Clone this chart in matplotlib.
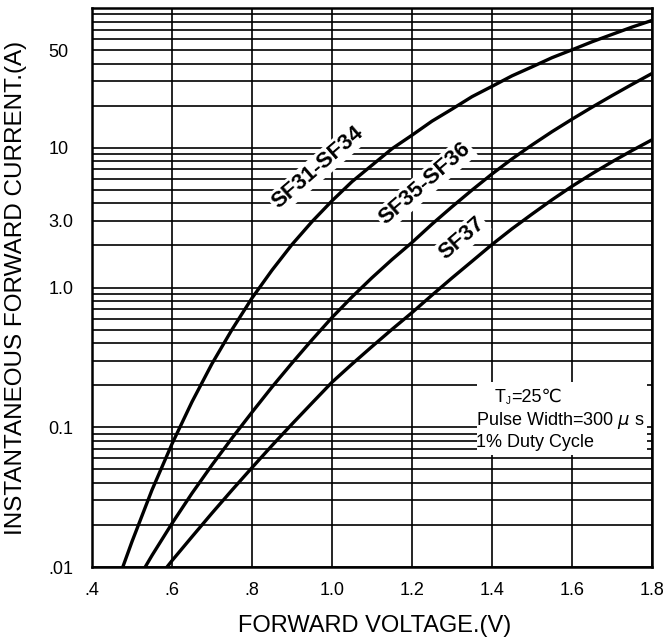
import numpy as np
import matplotlib.pyplot as plt
from matplotlib.patches import Rectangle

# forward voltage (V) / instantaneous forward current (A)
v_sf31 = [0.477, 0.50, 0.55, 0.60, 0.65, 0.70, 0.75, 0.80, 0.85, 0.90, 0.95, 1.00, 1.05, 1.10,
          1.15, 1.20, 1.25, 1.30, 1.35, 1.40, 1.45, 1.50, 1.55, 1.60, 1.65, 1.70, 1.75, 1.80]
i_sf31 = [0.01, 0.0152, 0.0356, 0.076, 0.152, 0.285, 0.50, 0.84, 1.33, 2.03, 2.96, 4.17, 5.72, 7.5,
          9.84, 12.3, 15.5, 18.9, 23.2, 27.5, 32.7, 37.9, 44.1, 50.2, 57.3, 64.7, 73, 81.5]

v_sf35 = [0.533, 0.55, 0.60, 0.65, 0.70, 0.75, 0.80, 0.85, 0.90, 0.95, 1.00, 1.05, 1.10, 1.15,
          1.20, 1.25, 1.30, 1.35, 1.40, 1.45, 1.50, 1.55, 1.60, 1.65, 1.70, 1.75, 1.80]
i_sf35 = [0.01, 0.0121, 0.0205, 0.0337, 0.0537, 0.0836, 0.128, 0.194, 0.288, 0.422, 0.61, 0.856,
          1.175, 1.585, 2.10, 2.84, 3.78, 4.98, 6.49, 8.32, 10.47, 13.03, 16.0, 19.5, 23.6, 28.4, 34.0]

v_sf37 = [0.5875, 0.60, 0.65, 0.70, 0.75, 0.80, 0.85, 0.90, 0.95, 1.00, 1.05, 1.10, 1.15, 1.20,
          1.25, 1.30, 1.35, 1.40, 1.45, 1.50, 1.55, 1.60, 1.65, 1.70, 1.75, 1.80]
i_sf37 = [0.01, 0.0111, 0.01646, 0.0243, 0.0355, 0.0514, 0.074, 0.1054, 0.149, 0.21, 0.283, 0.378,
          0.502, 0.661, 0.882, 1.17, 1.54, 2.03, 2.63, 3.35, 4.24, 5.30, 6.52, 7.93, 9.55, 11.4]

x_ticks = [0.4, 0.6, 0.8, 1.0, 1.2, 1.4, 1.6, 1.8]
x_labels = ['.4', '.6', '.8', '1.0', '1.2', '1.4', '1.6', '1.8']
y_ticks = [0.01, 0.1, 1, 3, 10, 50]
y_labels = ['.01', '0.1', '1.0', '3.0', '10', '50']

plt.rcParams['font.family'] = ['Liberation Sans', 'DejaVu Sans']

fig = plt.figure(figsize=(6.63, 6.39), dpi=100)
ax = fig.add_axes([92 / 663, 1 - 567 / 639, 560 / 663, 559 / 639])

ax.set_yscale('log')
ax.set_xlim(0.4, 1.8)
ax.set_ylim(0.01, 100)

ax.set_xticks(x_ticks)
ax.set_xticklabels(x_labels, fontsize=13)
ax.set_yticks(y_ticks)
ax.set_yticklabels(y_labels, fontsize=13, ha='left')
minor = [m * 10.0 ** e for e in range(-2, 2) for m in range(1, 10)]
ax.yaxis.set_minor_locator(plt.FixedLocator(minor))
ax.yaxis.set_minor_formatter(plt.NullFormatter())
ax.tick_params(which='both', length=0)
ax.tick_params(axis='y', pad=31.5)
ax.tick_params(axis='x', pad=11)

ax.grid(True, which='both', color='black', linewidth=1.2)
ax.set_axisbelow(True)
for s in ax.spines.values():
    s.set_linewidth(1.8)

ax.plot(v_sf31, i_sf31, color='black', lw=2.4, zorder=5)
ax.plot(v_sf35, i_sf35, color='black', lw=2.4, zorder=5)
ax.plot(v_sf37, i_sf37, color='black', lw=2.4, zorder=5)

lab = dict(fontsize=16, fontweight='bold', rotation=41, ha='center', va='center', zorder=4,
           rotation_mode='anchor', bbox=dict(facecolor='white', edgecolor='none', pad=1.5))
ax.text(0.965, 7.2, 'SF31-SF34', **lab)
ax.text(1.2325, 5.53, 'SF35-SF36', **lab)
ax.text(1.325, 2.24, 'SF37', **lab)

# condition note on a white patch
ax.add_patch(Rectangle((1.3625, 0.063), 0.425, 0.147, facecolor='white', edgecolor='none', zorder=3))
ax.text(1.4075, 0.164, 'T', fontsize=13, va='center', zorder=4)
ax.annotate('J', xy=(1.4075, 0.164), xytext=(8, -3), textcoords='offset points',
            fontsize=7, va='center', zorder=4)
ax.annotate('=25℃', xy=(1.4075, 0.164), xytext=(11.5, 0), textcoords='offset points',
            fontsize=13, va='center', zorder=4)
ax.text(1.36, 0.112, 'Pulse Width=300 $\\mu$ s', fontsize=13, va='center', zorder=4)
ax.text(1.36, 0.078, '1% Duty Cycle', fontsize=13, va='center', zorder=4)

ax.set_xlabel('FORWARD VOLTAGE.(V)', fontsize=17, va='center')
ax.xaxis.set_label_coords(0.504, -0.1055)
ax.set_ylabel('INSTANTANEOUS FORWARD CURRENT.(A)', fontsize=17.5, va='center')
ax.yaxis.set_label_coords(-0.135, 0.5)

fig.savefig('out.png', dpi=100)
